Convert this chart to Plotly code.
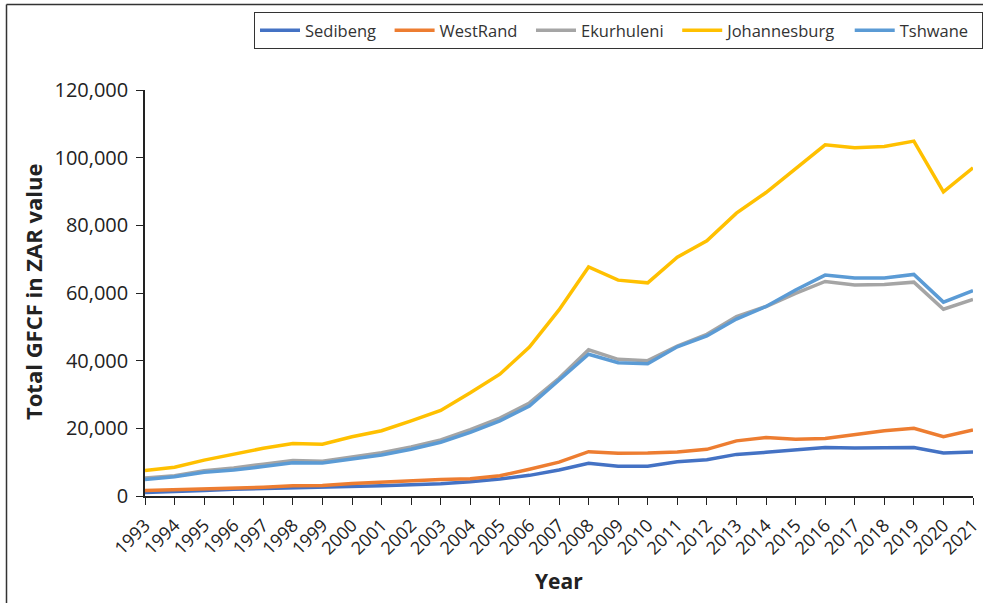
import plotly.graph_objects as go

years = list(range(1993, 2022))
sedibeng = [1000, 1200, 1600, 2000, 2200, 2400, 2400, 2700, 3000, 3300, 3600, 4200, 5000, 6100, 7700,
            9700, 8800, 8800, 10100, 10700, 12300, 12900, 13700, 14300, 14200, 14200, 14300, 12700, 13000]
westrand = [1600, 1800, 2200, 2300, 2600, 3000, 3100, 3700, 4100, 4600, 4900, 5100, 6000, 7900, 10000,
            13100, 12600, 12700, 13000, 13800, 16300, 17300, 16800, 17000, 18100, 19300, 20000, 17500, 19500]
ekurhuleni = [5300, 6000, 7500, 8300, 9400, 10500, 10300, 11600, 12800, 14500, 16600, 19600, 23000, 27500, 34800,
              43200, 40400, 40000, 44300, 47800, 53000, 56000, 59900, 63400, 62400, 62500, 63200, 55200, 58100]
johannesburg = [7500, 8500, 10600, 12300, 14100, 15500, 15300, 17500, 19300, 22200, 25300, 30500, 36000, 44000, 55000,
                67700, 63800, 63000, 70600, 75400, 83600, 89700, 96900, 103800, 102900, 103300, 104900, 89900, 97000]
tshwane = [4900, 5700, 7000, 7700, 8700, 9800, 9750, 11000, 12100, 13800, 15900, 18800, 22200, 26600, 34100,
           41900, 39400, 39100, 44100, 47300, 52300, 56000, 60900, 65300, 64400, 64400, 65500, 57300, 60700]

series = [
    ("Sedibeng", sedibeng, "#4472C4"),
    ("WestRand", westrand, "#ED7D31"),
    ("Ekurhuleni", ekurhuleni, "#A5A5A5"),
    ("Johannesburg", johannesburg, "#FFC000"),
    ("Tshwane", tshwane, "#5B9BD5"),
]

fig = go.Figure()
for name, vals, color in series:
    fig.add_trace(go.Scatter(x=years, y=vals, name=name + "  ", mode="lines",
                             line=dict(color=color, width=3.5)))

font_family = "Open Sans, Lato, sans-serif"
L, R, T, B = 145, 10, 90, 107
W, H = 983 - L - R, 603 - T - B

fig.update_layout(
    width=983, height=603,
    margin=dict(l=L, r=R, t=T, b=B, autoexpand=False),
    paper_bgcolor="white", plot_bgcolor="white",
    font=dict(family=font_family, color="#222222"),
    showlegend=True,
    legend=dict(orientation="h", x=(983 - L) / W, xanchor="right", y=(496 - 12) / H, yanchor="top",
                bordercolor="#333333", borderwidth=1, font=dict(size=16.5, color="#333333"),
                itemwidth=40, tracegroupgap=0),
    xaxis=dict(range=[1993, 2021], tickmode="array", tickvals=years,
               ticktext=[str(y) for y in years], tickangle=-45, automargin=False,
               showline=True, linecolor="#222222", linewidth=1.5,
               ticks="outside", ticklen=7, tickcolor="#222222",
               showgrid=False, zeroline=False, ticklabelstandoff=3,
               tickfont=dict(size=18, color="#222222")),
    yaxis=dict(range=[0, 120000], tickvals=[0, 20000, 40000, 60000, 80000, 100000, 120000],
               tickformat=",", showline=True, linecolor="#222222", linewidth=1.5, automargin=False,
               ticks="outside", ticklen=7, tickcolor="#222222",
               showgrid=False, zeroline=False, ticklabelstandoff=4,
               tickfont=dict(size=20, color="#222222")),
)

fig.add_annotation(text="<b>Year</b>", xref="paper", yref="paper",
                   x=(559 - L) / W, y=(496 - 581) / H, showarrow=False,
                   font=dict(size=21, color="#222222"), xanchor="center", yanchor="middle")
fig.add_annotation(text="<b>Total GFCF in ZAR value</b>", xref="paper", yref="paper",
                   x=(33 - L) / W, y=(496 - 292) / H, showarrow=False, textangle=-90,
                   font=dict(size=22, color="#222222"), xanchor="center", yanchor="middle")

# outer frame lines (left and top) of the original image
fig.add_shape(type="line", xref="paper", yref="paper",
              x0=(6.5 - L) / W, x1=(6.5 - L) / W, y0=(496 - 603) / H, y1=(496 - 4.5) / H,
              line=dict(color="#333333", width=1.5))
fig.add_shape(type="line", xref="paper", yref="paper",
              x0=(6.5 - L) / W, x1=(983 - L) / W, y0=(496 - 4.5) / H, y1=(496 - 4.5) / H,
              line=dict(color="#333333", width=1.5))

fig.write_html("out.html", config={"displayModeBar": False},
               post_script="document.body.style.margin='0';")
